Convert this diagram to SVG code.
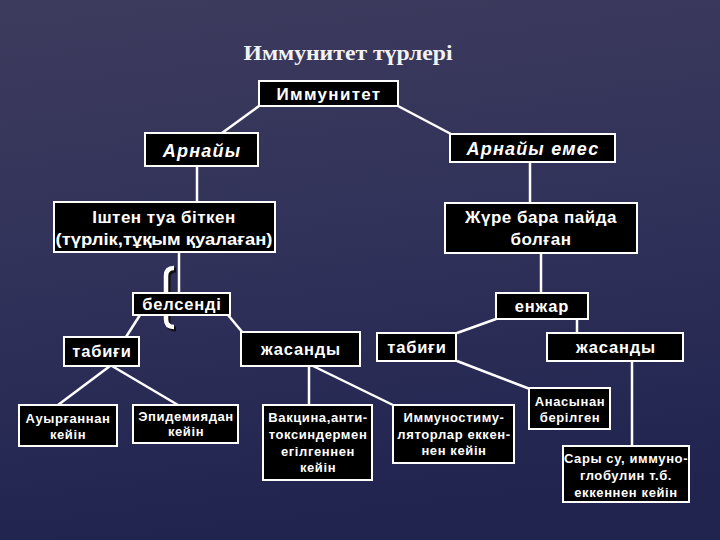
<svg xmlns="http://www.w3.org/2000/svg" width="720" height="540" viewBox="0 0 720 540">
<defs>
<linearGradient id="bg" x1="0" y1="0" x2="0.15" y2="1">
<stop offset="0" stop-color="#3d3b5d"/>
<stop offset="0.5" stop-color="#31325a"/>
<stop offset="1" stop-color="#20244f"/>
</linearGradient>
<style>
.box{fill:#000;stroke:#fff;stroke-width:2}
.t{font-family:"Liberation Sans",Arial,sans-serif;font-weight:bold;fill:#fff;text-anchor:middle}
.big{font-size:17px;letter-spacing:0.5px}
.mid{font-size:16.5px;letter-spacing:0.8px}
.sm{font-size:13px;letter-spacing:0.6px}
.it{font-style:italic;font-size:18px;letter-spacing:1.2px}
.c line{stroke:#fff;stroke-width:2.5}
</style>
</defs>
<rect x="0" y="0" width="720" height="540" fill="url(#bg)"/>
<text x="348" y="60" font-family="Liberation Serif,Times New Roman,serif" font-weight="bold" font-size="21" fill="#f2f2f2" text-anchor="middle" textLength="209" lengthAdjust="spacingAndGlyphs">Иммунитет түрлері</text>

<g id="brace">
<path d="M176,270 Q168,270 168,278 L168,294 Q168,299 163,299 Q168,299 168,304 L168,321 Q168,329 176,329" fill="none" stroke="#111" stroke-width="5"/>
<path d="M174,268 Q166,268 166,276 L166,292 Q166,297 161,297 Q166,297 166,302 L166,319 Q166,327 174,327" fill="none" stroke="#fff" stroke-width="4.5"/>
</g>

<g id="connectors" class="c">
<line x1="259" y1="106" x2="222" y2="133"/>
<line x1="398" y1="106" x2="451" y2="134"/>
<line x1="197" y1="166" x2="197" y2="202"/>
<line x1="530" y1="162" x2="530" y2="203"/>
<line x1="179" y1="252" x2="179" y2="293"/>
<line x1="541" y1="253" x2="541" y2="293"/>
<line x1="140" y1="315" x2="126" y2="337"/>
<line x1="228" y1="315" x2="243" y2="333"/>
<line x1="496" y1="319" x2="457" y2="333"/>
<line x1="577" y1="319" x2="577" y2="333"/>
<line x1="110" y1="366" x2="58" y2="405"/>
<line x1="112" y1="366" x2="178" y2="405"/>
<line x1="309" y1="366" x2="309" y2="405"/>
<line x1="313" y1="366" x2="395" y2="406"/>
<line x1="457" y1="361" x2="530" y2="389"/>
<line x1="632" y1="361" x2="632" y2="446"/>
</g>

<g id="immunitet"><rect class="box" x="259" y="81" width="139" height="25"/><text class="t" font-size="17" letter-spacing="1.3" x="329" y="100">Иммунитет</text></g>
<g id="arnaiy"><rect class="box" x="145" y="133" width="113" height="33"/><text class="t it" x="202" y="157">Арнайы</text></g>
<g id="arnaiy-emes"><rect class="box" x="450" y="134" width="165" height="28"/><text class="t it" x="533" y="155">Арнайы емес</text></g>
<g id="ishten"><rect class="box" x="54" y="202" width="221" height="50"/><text class="t big" x="164" y="223">Іштен туа біткен</text><text class="t" font-size="17" x="164" y="245" textLength="217" lengthAdjust="spacingAndGlyphs">(түрлік,тұқым қуалаған)</text></g>
<g id="zhure"><rect class="box" x="445" y="203" width="192" height="50"/><text class="t big" x="541" y="223">Жүре бара пайда</text><text class="t big" x="541" y="245">болған</text></g>
<g id="belsendi"><rect class="box" x="133" y="293" width="97" height="22"/><text class="t mid" x="182" y="310">белсенді</text></g>
<g id="enzhar"><rect class="box" x="496" y="293" width="92" height="26"/><text class="t mid" x="542" y="312">енжар</text></g>
<g id="tabigi-1"><rect class="box" x="64" y="337" width="75" height="29"/><text class="t mid" x="102" y="357">табиғи</text></g>
<g id="zhasandy-1"><rect class="box" x="241" y="332" width="119" height="34"/><text class="t mid" x="301" y="355">жасанды</text></g>
<g id="tabigi-2"><rect class="box" x="377" y="333" width="79" height="28"/><text class="t mid" x="417" y="353">табиғи</text></g>
<g id="zhasandy-2"><rect class="box" x="547" y="333" width="136" height="28"/><text class="t mid" x="616" y="353">жасанды</text></g>
<g id="auyrgannan"><rect class="box" x="19" y="405" width="98" height="41"/><text class="t sm" x="68" y="423">Ауырғаннан</text><text class="t sm" x="68" y="439">кейін</text></g>
<g id="epidemiya"><rect class="box" x="133" y="405" width="105" height="38"/><text class="t sm" x="186" y="421">Эпидемиядан</text><text class="t sm" x="186" y="436">кейін</text></g>
<g id="vakcina"><rect class="box" x="263" y="405" width="109" height="75"/><text class="t sm" x="318" y="422">Вакцина,анти-</text><text class="t sm" x="318" y="439">токсиндермен</text><text class="t sm" x="318" y="456">егілгеннен</text><text class="t sm" x="318" y="472">кейін</text></g>
<g id="immunostim"><rect class="box" x="393" y="405" width="121" height="58"/><text class="t sm" x="454" y="422">Иммуностиму-</text><text class="t sm" x="454" y="439">ляторлар еккен-</text><text class="t sm" x="454" y="455">нен кейін</text></g>
<g id="anasynan"><rect class="box" x="529" y="388" width="81" height="41"/><text class="t sm" x="570" y="406">Анасынан</text><text class="t sm" x="570" y="422">берілген</text></g>
<g id="sary-su"><rect class="box" x="563" y="446" width="126" height="56"/><text class="t sm" x="626" y="463">Сары су, иммуно-</text><text class="t sm" x="626" y="480">глобулин т.б.</text><text class="t sm" x="626" y="497">еккеннен кейін</text></g>
</svg>
